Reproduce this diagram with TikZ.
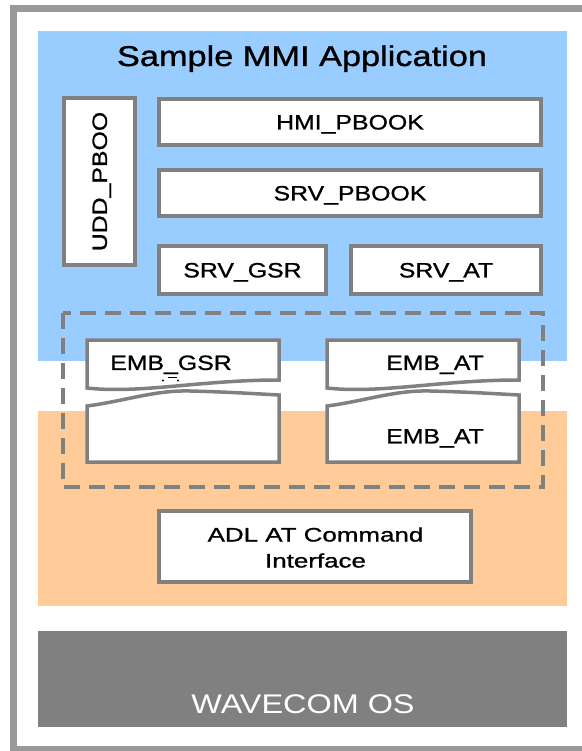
\documentclass[tikz,border=0pt]{standalone}
\usepackage{fontspec}
\setmainfont{Liberation Sans}[FakeStretch=1.2, FakeBold=1]
\newfontfamily\widefont{Liberation Sans}[FakeStretch=1.33, FakeBold=1]
\newfontfamily\osfont{Liberation Sans}[FakeStretch=1.2]
\definecolor{appblue}{HTML}{99CCFF}
\definecolor{adlorange}{HTML}{FFCC99}
\definecolor{osgray}{HTML}{808080}
\definecolor{edgegray}{HTML}{808080}
\definecolor{framegray}{HTML}{999999}
\tikzset{
  box/.style={draw=edgegray, line width=3.5bp, fill=white, inner sep=0pt,
    font=\fontsize{20.7bp}{25bp}\selectfont, text height=14.8bp, text depth=0pt},
  label/.style={inner sep=0pt, font=\fontsize{20.7bp}{25bp}\selectfont,
    text height=14.8bp, text depth=0pt},
  tape/.style={draw=edgegray, line width=3.5bp, fill=white, line join=miter},
}
\begin{document}
\begin{tikzpicture}[x=1bp, y=-1bp]
\useasboundingbox (0,0) rectangle (582,751);
\begin{scope}
  \clip (0,0) rectangle (582,751);
  \fill[white] (0,0) rectangle (582,751);
  \draw[framegray, line width=7bp] (13.5,9) rectangle (640,749);
\end{scope}

% layer backgrounds
\fill[appblue] (38,31) rectangle (567,361);
\fill[adlorange] (38,411) rectangle (567,606);
\fill[osgray] (38,631) rectangle (567,727);

\node[inner sep=0pt, anchor=base, font=\fontsize{28.6bp}{32bp}\selectfont]
  (title) at (302,66) {Sample MMI Application};

% application modules
\node[box, rotate=90, minimum width=167bp, minimum height=71bp] (udd) at (99.5,181.5) {UDD\_PBOO};
\node[box, minimum width=382bp, minimum height=46bp] (hmi) at (350,122) {HMI\_PBOOK};
\node[box, minimum width=382bp, minimum height=46bp] (srvpb) at (350,193) {SRV\_PBOOK};
\node[box, minimum width=167bp, minimum height=48bp] (srvgsr) at (242.5,270) {SRV\_GSR};
\node[box, minimum width=190bp, minimum height=48bp] (srvat) at (446,270) {SRV\_AT};

% embedded layer frame
\draw[edgegray, line width=3.5bp, dash pattern=on 16bp off 9bp] (63,313) rectangle (543,487);

% torn EMB_GSR block
\path[tape] (87,388) -- (87,340) -- (279,340) -- (279,380)
  .. controls (200,380) and (140,394) .. cycle;
\path[tape] (87,406) .. controls (125,401) and (155,390) .. (190,391)
  .. controls (230,392) and (260,394) .. (279,395) -- (279,462) -- (87,462) -- cycle;
\node[label] (embgsr) at (171,362.5) {EMB\_GSR};
\fill (163,380.5) circle (1.1bp) (178,380.5) circle (1.1bp);
\draw[line width=1.3bp] (168,377.5) -- (177,377.5);

% torn EMB_AT block
\path[tape] (327,388) -- (327,340) -- (519,340) -- (519,380)
  .. controls (440,380) and (380,394) .. cycle;
\path[tape] (327,406) .. controls (365,401) and (395,390) .. (430,391)
  .. controls (470,392) and (500,394) .. (519,395) -- (519,462) -- (327,462) -- cycle;
\node[label] (embat) at (435,362.5) {EMB\_AT};
\node[label] (embatlow) at (435,436) {EMB\_AT};

% ADL interface
\node[box, minimum width=312bp, minimum height=71bp] (adl) at (315,546.5) {};
\node[inner sep=0pt, anchor=base, font=\widefont\fontsize{19.5bp}{24bp}\selectfont]
  (adlone) at (315.5,541.5) {ADL AT Command};
\node[inner sep=0pt, anchor=base, font=\widefont\fontsize{19.5bp}{24bp}\selectfont]
  (adltwo) at (315.5,567.5) {Interface};

% operating system
\node[inner sep=0pt, anchor=base, text=white, font=\osfont\fontsize{27bp}{30bp}\selectfont]
  (os) at (303,713) {WAVECOM OS};
\end{tikzpicture}
\end{document}
